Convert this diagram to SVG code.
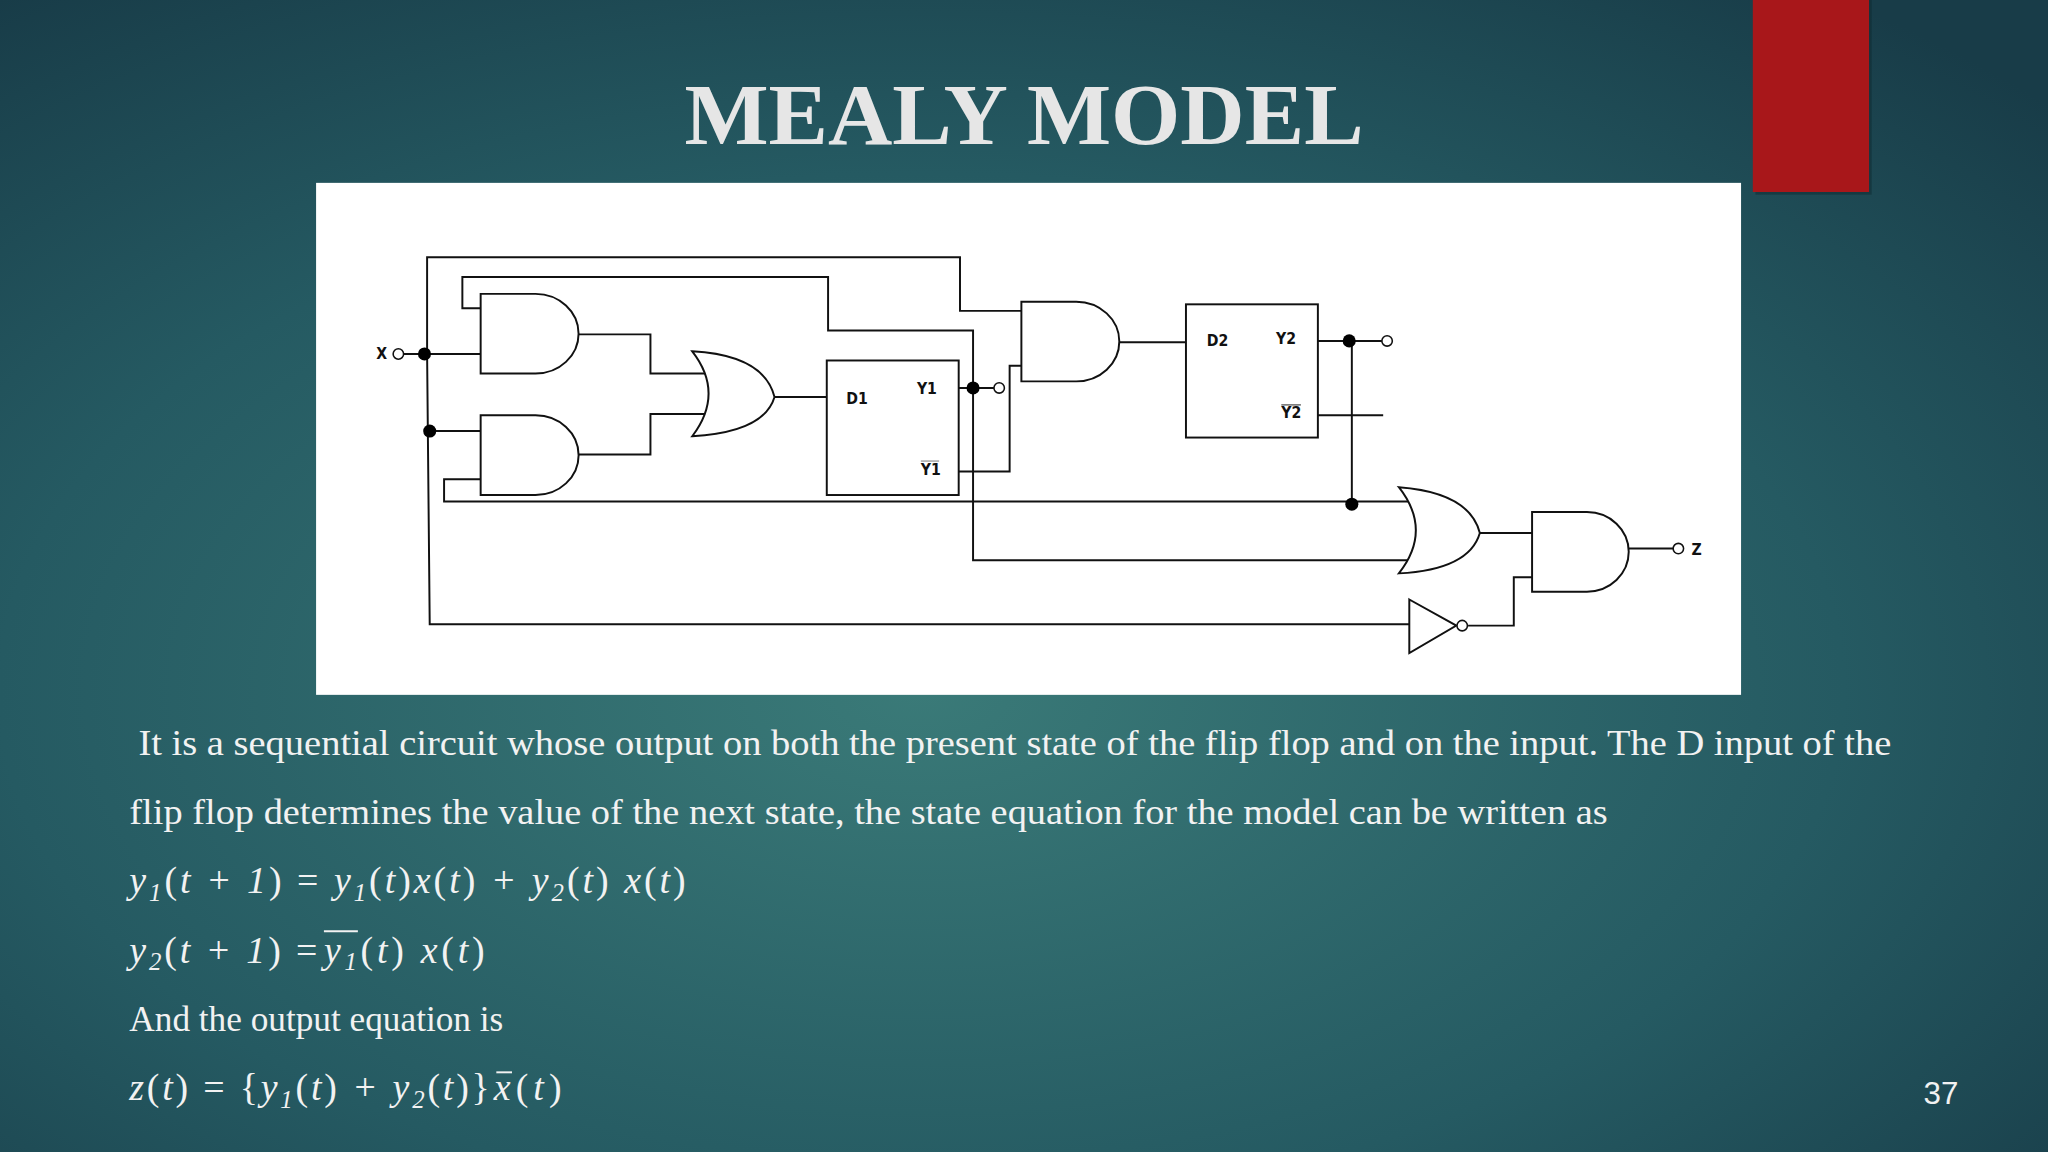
<svg xmlns="http://www.w3.org/2000/svg" width="2048" height="1152" viewBox="0 0 2048 1152">
<defs>
<radialGradient id="bg" cx="0.45" cy="0.6" r="0.75">
<stop offset="0" stop-color="#3a7a78"/><stop offset="0.6" stop-color="#255a62"/><stop offset="1" stop-color="#183c48"/>
</radialGradient>
<style>
.w{fill:none;stroke:#111;stroke-width:1.5}
.g{fill:#fff;stroke:#111;stroke-width:1.5}
.d{fill:#000}
.o{fill:#fff;stroke:#111;stroke-width:1.2}
.lb{font-family:"DejaVu Sans Condensed","DejaVu Sans",sans-serif;font-size:12px;font-weight:bold;fill:#111}
.t{font-family:"Liberation Serif",serif;font-size:27px;fill:#f2f2f2}
.m{font-family:"Liberation Serif",serif;font-style:italic;font-size:29px;fill:#f2f2f2}
.s{font-size:19px}
</style>
</defs>
<rect width="2048" height="1152" fill="url(#bg)"/>
<g transform="scale(1.30612)">
<rect x="1344" y="0" width="89" height="149" fill="#0d2a30" opacity="0.5"/>
<rect x="1342" y="0" width="89" height="147" fill="#a8171a"/>
<text x="784" y="110" text-anchor="middle" font-family="Liberation Serif,serif" font-weight="bold" font-size="66" fill="#e6e6e6" textLength="520" lengthAdjust="spacingAndGlyphs">MEALY MODEL</text>
<rect x="242" y="140" width="1091" height="392" fill="#fff"/>

<g id="connectors">
<path class="w" d="M327 271 L327 197 L735 197 L735 238 L782 238"/>
<path class="w" d="M368 236 L354 236 L354 212 L634 212 L634 253 L745 253 L745 429 L1080 429"/>
<path class="w" d="M309 271 L368 271"/>
<path class="w" d="M327 271 L329 478 L1079 478"/>
<path class="w" d="M329 330 L368 330"/>
<path class="w" d="M368 367 L340 367 L340 384 L1082 384"/>
<path class="w" d="M443 256 L498 256 L498 286 L540 286"/>
<path class="w" d="M443 348 L498 348 L498 317 L540 317"/>
<path class="w" d="M593 304 L633 304"/>
<path class="w" d="M734 297 L761 297"/>
<path class="w" d="M734 361 L773 361 L773 280 L782 280"/>
<path class="w" d="M857 262 L908 262"/>
<path class="w" d="M1009 261 L1058 261"/>
<path class="w" d="M1035 261 L1035 386"/>
<path class="w" d="M1009 318 L1059 318"/>
<path class="w" d="M1133 408 L1173 408"/>
<path class="w" d="M1124 479 L1159 479 L1159 442 L1173 442"/>
<path class="w" d="M1247 420 L1281 420"/>
<circle class="d" cx="325" cy="271" r="5"/>
<circle class="d" cx="329" cy="330" r="5"/>
<circle class="d" cx="745" cy="297" r="5"/>
<circle class="d" cx="1033" cy="261" r="5"/>
<circle class="d" cx="1035" cy="386" r="5"/>
<circle class="o" cx="305" cy="271" r="4"/>
<circle class="o" cx="765" cy="297" r="4"/>
<circle class="o" cx="1062" cy="261" r="4"/>
<circle class="o" cx="1285" cy="420" r="4"/>
</g>

<text class="lb" x="288" y="275">X</text>
<text class="lb" x="1295" y="425">Z</text>

<g id="and1"><path class="g" d="M368 225 L410 225 A33 30.5 0 0 1 410 286 L368 286 Z"/></g>
<g id="and2"><path class="g" d="M368 318 L410 318 A33 30.5 0 0 1 410 379 L368 379 Z"/></g>
<g id="or1"><path class="g" d="M530 269 Q585 272 593 304 Q585 331 530 334 Q555 301 530 269 Z"/></g>
<g id="d1"><rect class="g" x="633" y="276" width="101" height="103"/>
<text class="lb" x="648" y="309">D1</text><text class="lb" x="702" y="302">Y1</text>
<text class="lb" x="705" y="364">Y1</text><line x1="705" y1="353" x2="719" y2="353" stroke="#999" stroke-width="1"/></g>
<g id="and3"><path class="g" d="M782 231 L824 231 A33 30.5 0 0 1 824 292 L782 292 Z"/></g>
<g id="d2"><rect class="g" x="908" y="233" width="101" height="102"/>
<text class="lb" x="924" y="265">D2</text><text class="lb" x="977" y="263">Y2</text>
<text class="lb" x="981" y="320">Y2</text><line x1="981" y1="310" x2="996" y2="310" stroke="#555" stroke-width="1"/></g>
<g id="or2"><path class="g" d="M1071 373 Q1125 377 1133 408 Q1125 436 1071 439 Q1097 406 1071 373 Z"/></g>
<g id="and4"><path class="g" d="M1173 392 L1215 392 A32 30.5 0 0 1 1215 453 L1173 453 Z"/></g>
<g id="not"><path class="g" d="M1079 459 L1115 479 L1079 500 Z"/><circle class="o" cx="1119.5" cy="479" r="4"/></g>

<text class="t" x="106" y="578" textLength="1342" lengthAdjust="spacingAndGlyphs">It is a sequential circuit whose output on both the present state of the flip flop and on the input. The D input of the</text>
<text class="t" x="99" y="631" textLength="1132" lengthAdjust="spacingAndGlyphs">flip flop determines the value of the next state, the state equation for the model can be written as</text>
<text class="m" x="99" y="684" textLength="426" lengthAdjust="spacing">y<tspan class="s" dy="6">1</tspan><tspan dy="-6" font-style="normal">(</tspan>t + 1<tspan font-style="normal">)</tspan> <tspan font-style="normal">=</tspan> y<tspan class="s" dy="6">1</tspan><tspan dy="-6" font-style="normal">(</tspan>t<tspan font-style="normal">)</tspan>x<tspan font-style="normal">(</tspan>t<tspan font-style="normal">)</tspan> + y<tspan class="s" dy="6">2</tspan><tspan dy="-6" font-style="normal">(</tspan>t<tspan font-style="normal">)</tspan> x<tspan font-style="normal">(</tspan>t<tspan font-style="normal">)</tspan></text>
<text class="m" x="99" y="737" textLength="144" lengthAdjust="spacing">y<tspan class="s" dy="6">2</tspan><tspan dy="-6" font-style="normal">(</tspan>t + 1<tspan font-style="normal">)</tspan> <tspan font-style="normal">=</tspan></text>
<text class="m" x="248" y="737" textLength="123" lengthAdjust="spacing">y<tspan class="s" dy="6">1</tspan><tspan dy="-6" font-style="normal">(</tspan>t<tspan font-style="normal">)</tspan> x<tspan font-style="normal">(</tspan>t<tspan font-style="normal">)</tspan></text>
<line x1="248" y1="713" x2="274" y2="713" stroke="#f2f2f2" stroke-width="1.5"/>
<text class="t" x="99" y="789">And the output equation is</text>
<text class="m" x="99" y="842" textLength="276" lengthAdjust="spacing">z<tspan font-style="normal">(</tspan>t<tspan font-style="normal">) = {</tspan>y<tspan class="s" dy="6">1</tspan><tspan dy="-6" font-style="normal">(</tspan>t<tspan font-style="normal">)</tspan> + y<tspan class="s" dy="6">2</tspan><tspan dy="-6" font-style="normal">(</tspan>t<tspan font-style="normal">)}</tspan></text>
<text class="m" x="378" y="842" textLength="52" lengthAdjust="spacing">x<tspan font-style="normal">(</tspan>t<tspan font-style="normal">)</tspan></text>
<line x1="380" y1="821" x2="392" y2="821" stroke="#f2f2f2" stroke-width="1.5"/>
<text x="1486" y="845" text-anchor="middle" font-family="Liberation Sans,sans-serif" font-size="24" fill="#f2f2f2">37</text>
</g>
</svg>
